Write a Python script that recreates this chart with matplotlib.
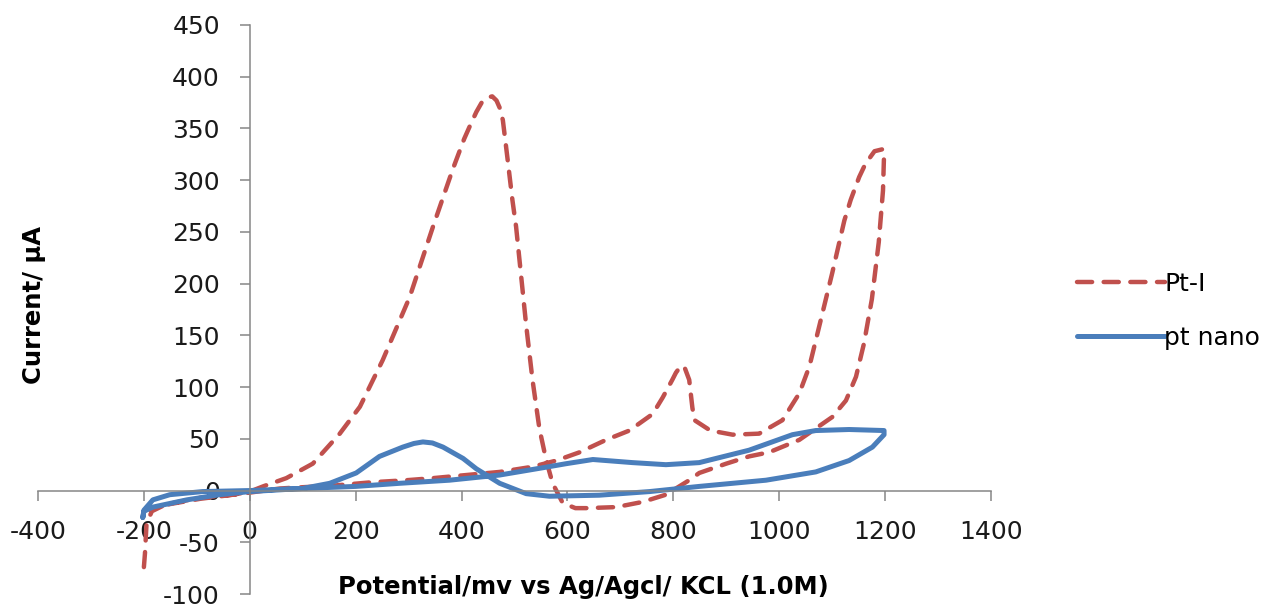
import matplotlib
matplotlib.use("Agg")
import matplotlib.pyplot as plt

plt.rcParams["axes.unicode_minus"] = False

# cyclic voltammograms (mV, uA)
pt_i_x = [-200, -198, -195, -185, -165, -145, -94, -32, 0, 25, 69, 119, 170, 208,
          251, 302, 346, 383, 405, 418, 428, 438, 449, 458, 466, 472, 478, 487,
          496, 503, 508, 514, 522, 534, 547, 560, 572, 591, 615, 636, 692, 742,
          786, 830, 849, 900, 943, 981, 1038, 1100, 1126, 1145, 1160, 1175, 1188,
          1196, 1198, 1196, 1180, 1163, 1151, 1135, 1123, 1100, 1069, 1057, 1038,
          1006, 962, 912, 870, 849, 840, 836, 830, 822, 815, 805, 798, 780, 761,
          717, 673, 623, 579, 534, 472, 409, 346, 296, 230, 163, 57, 0, -94,
          -150, -190]
pt_i_y = [-74, -61, -32, -20, -15, -12, -7, -4, -1, 4, 12, 26, 55, 81,
          126, 187, 255, 310, 340, 355, 366, 375, 380, 381, 377, 370, 358, 320,
          281, 255, 230, 200, 160, 107, 60, 29, 7, -12, -17, -17, -16, -11,
          -4, 10, 17, 26, 33, 37, 49, 71, 87, 110, 142, 185, 240,
          290, 325, 330, 328, 316, 303, 281, 261, 210, 145, 120, 94,
          68, 55, 54, 58, 65, 68, 80, 107, 118, 121, 114, 107, 90, 74,
          58, 49, 37, 29, 23, 18, 15, 12, 10, 8, 5, 2, -2, -8,
          -13, -18]

nano_x = [-202, -200, -183, -119, -57, 0, 100, 151, 201, 245, 289, 310, 327, 345,
          365, 403, 428, 472, 522, 566, 660, 755, 849, 975, 1069, 1132, 1176,
          1198, 1198, 1132, 1069, 1025, 943, 849, 786, 723, 648, 598, 553, 472,
          377, 283, 200, 100, 0, -89, -151, -183, -200, -202]
nano_y = [-26, -20, -16, -9, -4, -1, 2, 7, 17, 33, 42, 45.5, 47, 46,
          42, 31, 21, 7, -3, -5.5, -4.5, -1, 4, 10, 18, 29, 42,
          54, 58, 59, 58, 54, 39, 27, 25, 27, 30, 26, 22, 15,
          10, 7, 4, 2, 0, -1, -4, -9, -19, -26]

x_ticks = list(range(-400, 1401, 200))
y_ticks = list(range(-100, 451, 50))

RED = "#C0504D"
BLUE = "#4A7EBB"
GREY = "#868686"

fig = plt.figure(figsize=(12.75, 6.06), dpi=100)
ax = fig.add_axes([38 / 1275, 1 - 594 / 606, (991 - 38) / 1275, (594 - 25) / 606])

ax.plot(pt_i_x, pt_i_y, color=RED, lw=3.2, linestyle=(0, (3.4, 2.6)),
        dash_capstyle="round", dash_joinstyle="round", label="Pt-I")
ax.plot(nano_x, nano_y, color=BLUE, lw=3.6, solid_capstyle="round",
        solid_joinstyle="round", label="pt nano")

ax.set_xlim(-400, 1400)
ax.set_ylim(-100, 450)
ax.set_xticks(x_ticks)
ax.set_yticks(y_ticks)

for s in ("top", "right"):
    ax.spines[s].set_visible(False)
for s in ("left", "bottom"):
    ax.spines[s].set_position(("data", 0))
    ax.spines[s].set_color(GREY)
    ax.spines[s].set_linewidth(1.1)
ax.tick_params(direction="out", length=7.5, width=1.1, color=GREY,
               labelsize=18, pad=14, labelcolor="#1a1a1a")

ax.set_xlabel("Potential/mv vs Ag/Agcl/ KCL (1.0M)", fontsize=17.5,
              fontweight="bold")
ax.xaxis.set_label_coords(0.572, 0.033)
ax.set_ylabel("Current/ µA", fontsize=17.5, fontweight="bold")
ax.yaxis.set_label_coords(0.008, 0.508)

ax.legend(loc="center left", bbox_to_anchor=(1077 / 1275, 1 - 311 / 606),
          bbox_transform=fig.transFigure, frameon=False, fontsize=18,
          handlelength=3.5, handletextpad=0.0, labelspacing=1.2,
          borderpad=0, borderaxespad=0)

fig.savefig("out.png", dpi=100)
